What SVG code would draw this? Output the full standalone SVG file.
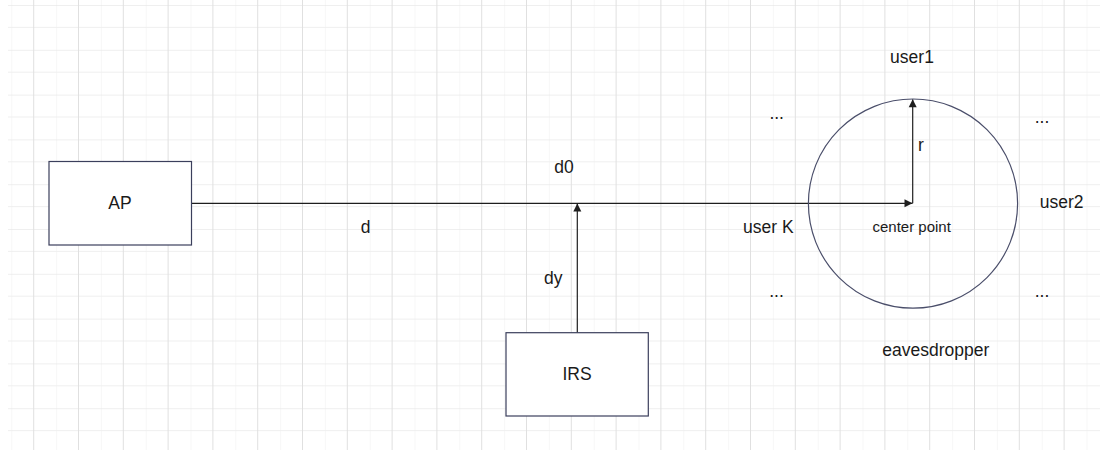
<svg xmlns="http://www.w3.org/2000/svg" width="1110" height="450" viewBox="0 0 1110 450">
  <style>
    .lbl { font-family: "Liberation Sans", Arial, sans-serif; font-size: 17.5px; fill: #1a1a1a; text-anchor: middle; }
    .small { font-size: 15px; }
    .box { fill: #ffffff; stroke: #3b3f5c; stroke-width: 1.2; }
    .edge { fill: none; stroke: #1e1e1e; stroke-width: 1.2; }
  </style>
  <defs>
    <pattern id="grid" patternUnits="userSpaceOnUse" x="11.3" y="5" width="44.8" height="44.8">
      <line x1="0" y1="0" x2="0" y2="44.8" stroke="#efefef" stroke-width="1"/>
      <line x1="0" y1="22.4" x2="44.8" y2="22.4" stroke="#efefef" stroke-width="1"/>
      <line x1="22.4" y1="0" x2="22.4" y2="44.8" stroke="#e0e0e0" stroke-width="1"/>
      <line x1="0" y1="0" x2="44.8" y2="0" stroke="#e0e0e0" stroke-width="1"/>
    </pattern>
    <marker id="arrow" markerUnits="userSpaceOnUse" markerWidth="10" markerHeight="10" viewBox="0 0 10 10" refX="9" refY="5" orient="auto">
      <path d="M1,1 L9,5 L1,9 Z" fill="#1e1e1e"/>
    </marker>
  </defs>

  <!-- background grid -->
  <rect x="0" y="0" width="1110" height="450" fill="#ffffff"/>
  <rect x="8" y="0" width="1092" height="450" fill="url(#grid)"/>

  <!-- connectors -->
  <g id="connectors">
    <line class="edge" x1="191.5" y1="203.3" x2="912.5" y2="203.3" marker-end="url(#arrow)"/>
    <line class="edge" x1="577.3" y1="332.7" x2="577.3" y2="203.6" marker-end="url(#arrow)"/>
    <line class="edge" x1="912.7" y1="203.3" x2="912.7" y2="99.3" marker-end="url(#arrow)"/>
  </g>

  <!-- nodes -->
  <g id="ap">
    <rect class="box" x="49" y="161.5" width="142.5" height="83.5"/>
    <text class="lbl" x="120" y="209">AP</text>
  </g>
  <g id="irs">
    <rect class="box" x="506" y="332.7" width="142.3" height="83.3"/>
    <text class="lbl" x="577" y="380">IRS</text>
  </g>
  <g id="coverage">
    <circle cx="913" cy="203.6" r="104.6" fill="none" stroke="#4a4e6a" stroke-width="1.2"/>
    <text class="lbl small" x="911.7" y="231.7">center point</text>
  </g>

  <!-- labels -->
  <g id="labels">
    <text class="lbl" x="564" y="172.7">d0</text>
    <text class="lbl" x="365.7" y="233.3">d</text>
    <text class="lbl" x="553.3" y="283.5">dy</text>
    <text class="lbl" x="921" y="151">r</text>
    <text class="lbl" x="912" y="62.7">user1</text>
    <text class="lbl" x="1061.7" y="208.3">user2</text>
    <text class="lbl" x="768.3" y="233.3">user K</text>
    <text class="lbl" x="935.8" y="356">eavesdropper</text>
    <text class="lbl" x="776.7" y="119">...</text>
    <text class="lbl" x="1042" y="123">...</text>
    <text class="lbl" x="776.5" y="297">...</text>
    <text class="lbl" x="1042" y="297">...</text>
  </g>
</svg>
